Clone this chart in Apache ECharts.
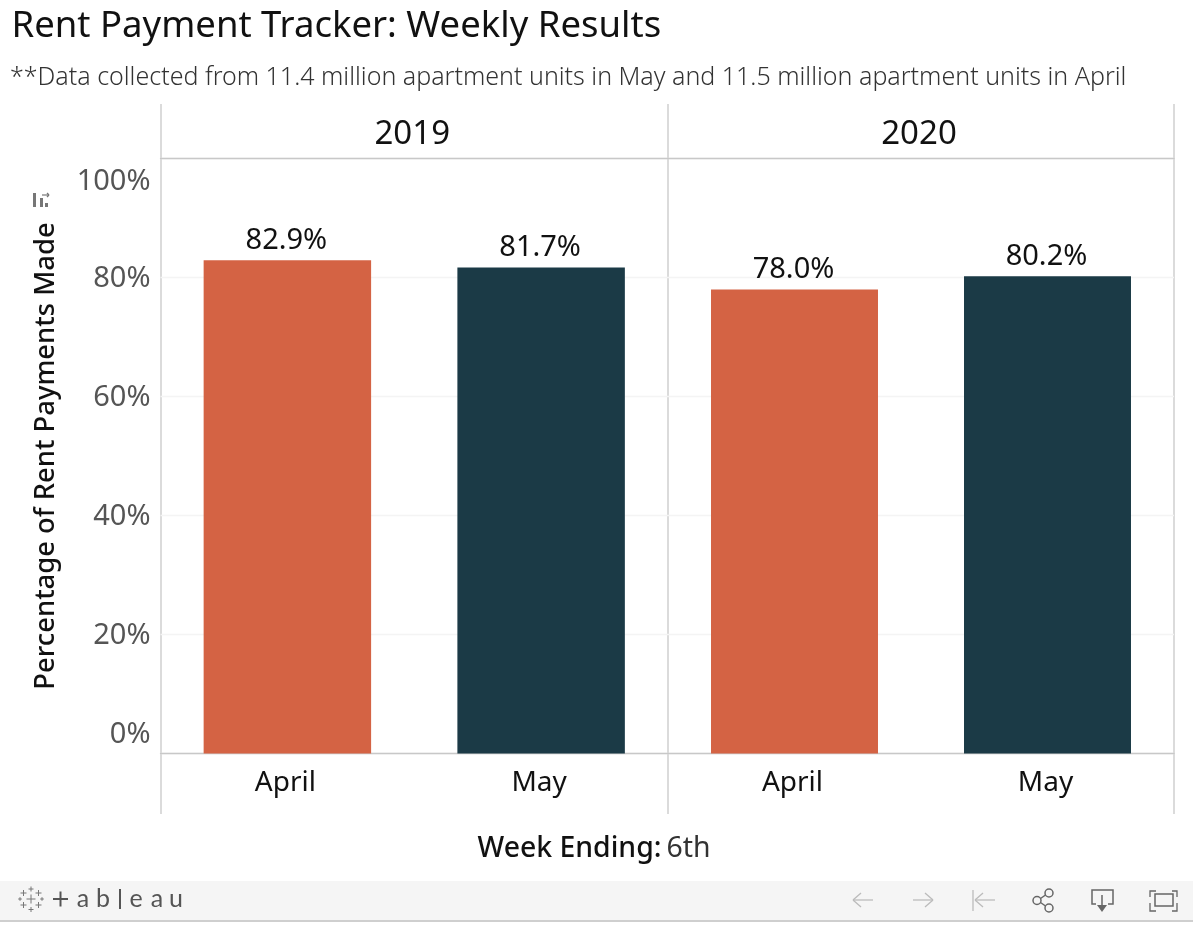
<!DOCTYPE html>
<html><head><meta charset="utf-8">
<style>html,body{margin:0;padding:0;background:#fff}#c{width:1197px;height:932px}</style>
<script src="https://cdn.jsdelivr.net/npm/echarts@6/dist/echarts.min.js"></script>
</head><body><div id="c"></div>
<script>
const years = ['2019', '2020'];
const months = ['April', 'May'];
const values2019 = [82.9, 81.7];
const values2020 = [78.0, 80.2];
const monthColors = ['#D46344', '#1B3A46'];
const FONT = '"Noto Sans", sans-serif';
const chart = echarts.init(document.getElementById('c'), null, {renderer:'canvas'});
const panels = [{left:160.5,width:507.5,v:values2019},{left:668,width:506,v:values2020}];
const grids = panels.map(p => ({left:p.left, width:p.width, top:158.5, height:595, containLabel:false}));
const xAxes = [], yAxes = [], series = [];
panels.forEach((p,i) => {
  xAxes.push({type:'category', gridIndex:i, data:months, position:'bottom',
    axisLine:{show:true,lineStyle:{color:'#c8c8c8',width:1.3}}, axisTick:{show:false},
    axisLabel:{color:'#111',fontFamily:FONT,fontSize:28,margin:16,padding:[0,4,0,0]}});
  xAxes.push({type:'category', gridIndex:i, data:[years[i]], position:'top',
    axisLine:{show:true,lineStyle:{color:'#c8c8c8',width:1.3}}, axisTick:{show:false},
    axisLabel:{color:'#111',fontFamily:FONT,fontSize:33,fontWeight:400,margin:7,padding:[0,4,0,0]}});
  yAxes.push({type:'value', gridIndex:i, min:0, max:100, interval:20,
    name: i===0 ? 'Percentage of Rent Payments Made' : '',
    nameLocation:'middle', nameGap:101,
    nameTextStyle:{color:'#111',fontFamily:FONT,fontSize:27.4,fontWeight:500},
    axisLine:{show:false}, axisTick:{show:false},
    splitLine:{show:true,lineStyle:{color:'#f4f4f4',width:1.3}},
    axisLabel:{show:i===0, margin:10,
      formatter:v => v===0 ? '{low|0%}' : v===100 ? '{high|100%}' : '{mid|'+v+'%}',
      rich:{
        low:{color:'#555',fontFamily:FONT,fontSize:29,padding:[0,0,38,0]},
        high:{color:'#555',fontFamily:FONT,fontSize:29,padding:[46,0,0,0]},
        mid:{color:'#555',fontFamily:FONT,fontSize:29,padding:[2,0,0,0]}
      }}});
  series.push({type:'bar', xAxisIndex:i*2, yAxisIndex:i, barWidth:'66%',
    data:p.v.map((v,k)=>({value:v,itemStyle:{color:monthColors[k]}})),
    label:{show:true,position:'top',distance:5,padding:[0,2,0,0],color:'#111',fontFamily:FONT,fontSize:29,
      formatter:o=>o.value.toFixed(1)+'%'}});
});
const lineCol = '#c8c8c8', iconDark = '#666', iconLight = '#bbb';
const seg = (x1,y1,x2,y2,c,w) => ({type:'line',silent:true,shape:{x1,y1,x2,y2},style:{stroke:c,lineWidth:w||1.3,fill:null}});
const txt = (x,y,text,size,color,extra) => ({type:'text',silent:true,x,y,style:Object.assign({text,fontSize:size,fill:color,fontFamily:FONT,align:'center',verticalAlign:'middle'},extra||{})});
const els = [];
[161,668,1174].forEach(x=>els.push(seg(x,104,x,814,lineCol)));
// sort icon
els.push({type:'rect',silent:true,shape:{x:33,y:193,width:3,height:14},style:{fill:'#777'}});
els.push({type:'rect',silent:true,shape:{x:40,y:198,width:3,height:9},style:{fill:'#777'}});
els.push({type:'rect',silent:true,shape:{x:45,y:203,width:3,height:4},style:{fill:'#777'}});
els.push(seg(42,195,49,195,'#777',1.2));
els.push(seg(47,193,49,195,'#777',1.2));
els.push(seg(47,197,49,195,'#777',1.2));
// footer
els.push({type:'rect',silent:true,shape:{x:0,y:881,width:1193,height:39},style:{fill:'#f5f5f5'}});
els.push({type:'rect',silent:true,shape:{x:0,y:920,width:1193,height:2},style:{fill:'#cfcfcf'}});
// tableau mark
const plus=(cx,cy,r,c,w)=>[seg(cx-r,cy,cx+r,cy,c,w),seg(cx,cy-r,cx,cy+r,c,w)];
[[31,889,2.5],[31,899,4.5],[31,909.5,2.5],[23.5,893,3],[38.5,893,3],[23.5,905,3],[38.5,905,3],[20,899,1.8],[42,899,1.8]]
  .forEach(a=>els.push(...plus(a[0],a[1],a[2],'#777',1)));
els.push(...plus(60.5,899,7.5,'#555',2));
[['a',83],['b',103],['e',136],['a',157],['u',176]].forEach(a=>els.push(txt(a[1],899,a[0],25,'#555',{fontFamily:'Lato, sans-serif'})));
els.push(seg(120,889,120,909,'#555',2));
// back, forward, reset
els.push(seg(853,900,873,900,iconLight),seg(853,900,861,893,iconLight),seg(853,900,861,907,iconLight));
els.push(seg(913,900,933,900,iconLight),seg(933,900,925,893,iconLight),seg(933,900,925,907,iconLight));
els.push(seg(973,890,973,911,iconLight),seg(975,900,995,900,iconLight),seg(975,900,983,893,iconLight),seg(975,900,983,907,iconLight));
// share
[[1049,893],[1037,900.5],[1049,908]].forEach(p=>els.push({type:'circle',silent:true,shape:{cx:p[0],cy:p[1],r:4},style:{fill:'none',stroke:iconDark,lineWidth:1.5}}));
els.push(seg(1040.5,898.5,1045.5,895,iconDark,1.5),seg(1040.5,902.5,1045.5,906,iconDark,1.5));
// download
els.push({type:'polyline',silent:true,shape:{points:[[1096,904],[1092,904],[1092,890],[1113,890],[1113,904],[1108,904]]},style:{stroke:iconDark,fill:'none',lineWidth:1.5}});
els.push(seg(1102,895,1102,908,iconDark,1.5));
els.push({type:'polygon',silent:true,shape:{points:[[1097,905],[1107,905],[1102,912]]},style:{fill:iconDark}});
// fullscreen
els.push({type:'rect',silent:true,shape:{x:1155,y:894,width:18,height:12},style:{fill:'none',stroke:iconDark,lineWidth:1.5}});
[[[1150,897],[1150,891],[1156,891]],[[1172,891],[1177,891],[1177,897]],[[1150,903],[1150,911],[1156,911]],[[1172,911],[1177,911],[1177,903]]]
  .forEach(points=>els.push({type:'polyline',silent:true,shape:{points},style:{stroke:iconDark,fill:'none',lineWidth:1.3}}));
chart.setOption({
  animation:false, backgroundColor:'#fff',
  title:[
    {text:'Rent Payment Tracker: Weekly Results',left:11.5,top:8,padding:0,textStyle:{color:'#111',fontFamily:FONT,fontSize:36.5,fontWeight:400}},
    {text:'**Data collected from 11.4 million apartment units in May and 11.5 million apartment units in April',left:10,top:65,padding:0,textStyle:{color:'#333',fontFamily:FONT,fontSize:25,fontWeight:300}},
    {text:'{b|Week Ending:} {n|6th}',left:589,textAlign:'center',top:830,textStyle:{rich:{
      b:{color:'#111',fontFamily:FONT,fontSize:28.4,fontWeight:500},
      n:{color:'#333',fontFamily:FONT,fontSize:28.4,fontWeight:400}}}}
  ],
  grid:grids, xAxis:xAxes, yAxis:yAxes, series, graphic:{elements:els}
});
</script></body></html>
